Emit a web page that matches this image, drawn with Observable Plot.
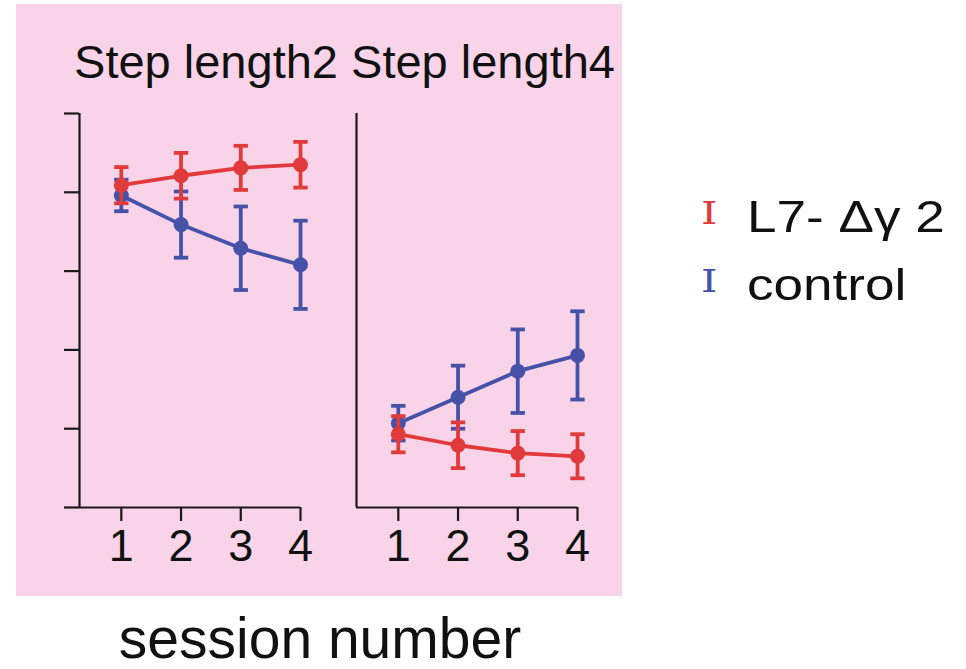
<!DOCTYPE html>
<html>
<head>
<meta charset="utf-8">
<script src="https://cdn.jsdelivr.net/npm/d3@7"></script>
<script src="https://cdn.jsdelivr.net/npm/@observablehq/plot@0.6"></script>
<style>
  html, body { margin: 0; padding: 0; background: #ffffff; }
  body { width: 966px; height: 669px; position: relative; overflow: hidden;
         font-family: "Liberation Sans", Arial, Helvetica, sans-serif; color: #111; }
  #chart { position: absolute; left: 16px; top: 4px; }
  .leg-icon { position: absolute; font-family: "DejaVu Serif", serif; font-size: 32px; line-height: 1; transform: scaleX(1.3); transform-origin: left top; }
  .leg-text { position: absolute; font-size: 45px; line-height: 1; white-space: nowrap; transform: scaleX(1.18); transform-origin: left top; }
  #xlabel { position: absolute; left: 0; width: 640px; text-align: center; top: 610px;
            font-size: 57px; line-height: 1; white-space: nowrap; }
</style>
</head>
<body>
<div id="chart"></div>
<div id="legend"></div>
<div id="xlabel">session number</div>
<script>
// ---- data ----
const sessions = [1, 2, 3, 4];
const sessionLabels = ["1", "2", "3", "4"];
const stepLengths = [2, 4];
const panelTitles = ["Step length2", "Step length4"];
const groups = ["control", "L7- Δγ 2"];          // drawing order (control underneath)
const legendOrder = ["L7- Δγ 2", "control"];
const groupColors = ["#4652a8", "#e13a3b"];       // control, L7
const yTicks = [0, 1, 2, 3, 4, 5];

// step length 2
const l7Step2Mean = [4.09, 4.21, 4.31, 4.35];
const l7Step2Err  = [0.23, 0.29, 0.28, 0.29];
const ctlStep2Mean = [3.96, 3.59, 3.29, 3.08];
const ctlStep2Err  = [0.20, 0.42, 0.53, 0.56];
// step length 4
const l7Step4Mean = [0.93, 0.79, 0.69, 0.65];
const l7Step4Err  = [0.23, 0.29, 0.28, 0.28];
const ctlStep4Mean = [1.07, 1.40, 1.73, 1.93];
const ctlStep4Err  = [0.22, 0.40, 0.53, 0.56];

// ---- table ----
const series = [
  {group: "L7- Δγ 2", step: 2, mean: l7Step2Mean, err: l7Step2Err},
  {group: "control",  step: 2, mean: ctlStep2Mean, err: ctlStep2Err},
  {group: "L7- Δγ 2", step: 4, mean: l7Step4Mean, err: l7Step4Err},
  {group: "control",  step: 4, mean: ctlStep4Mean, err: ctlStep4Err}
];
const rows = series.flatMap(s => sessions.map((x, i) => ({
  group: s.group, step: s.step, session: x,
  mean: s.mean[i], lo: s.mean[i] - s.err[i], hi: s.mean[i] + s.err[i]
})));
const titles = stepLengths.map((s, i) => ({step: s, title: panelTitles[i]}));

const xMin = 0.3, capHalf = 0.12;
const color = d3.scaleOrdinal(groups, groupColors);

const marks = [
  Plot.ruleX([xMin], {y1: 0, y2: 5, stroke: "#1a1a1a", strokeWidth: 2.2}),
  Plot.ruleY([0], {stroke: "#1a1a1a", strokeWidth: 2.2}),
  Plot.axisY({ticks: yTicks, tickSize: 15, tickFormat: () => "", stroke: "#1a1a1a", strokeWidth: 2.2, label: null}),
  Plot.axisX({ticks: sessions, tickSize: 14, tickPadding: 8, fontSize: 45,
              tickFormat: (d) => sessionLabels[sessions.indexOf(d)],
              fill: "#111", stroke: "#1a1a1a", strokeWidth: 2.2, label: null}),
  Plot.text(titles, {fx: "step", text: "title", frameAnchor: "top", dy: -69, dx: 16, fontSize: 47, fill: "#111"})
];
for (const g of groups) {
  const data = rows.filter(r => r.group === g);
  const c = color(g);
  marks.push(
    Plot.ruleX(data, {fx: "step", x: "session", y1: "lo", y2: "hi", stroke: c, strokeWidth: 3.8}),
    Plot.link(data, {fx: "step", x1: d => d.session - capHalf, x2: d => d.session + capHalf, y1: "hi", y2: "hi", stroke: c, strokeWidth: 3.8}),
    Plot.link(data, {fx: "step", x1: d => d.session - capHalf, x2: d => d.session + capHalf, y1: "lo", y2: "lo", stroke: c, strokeWidth: 3.8}),
    Plot.line(data, {fx: "step", x: "session", y: "mean", stroke: c, strokeWidth: 3.8}),
    Plot.dot(data, {fx: "step", x: "session", y: "mean", fill: c, r: 7.5})
  );
}

const chart = Plot.plot({
  width: 606,
  height: 592,
  marginLeft: 62,
  marginRight: 44,
  marginTop: 109,
  marginBottom: 89,
  style: {background: "#f9d4e9", fontFamily: "'Liberation Sans', Arial, sans-serif", overflow: "visible"},
  fx: {domain: stepLengths, paddingInner: 0.2014, paddingOuter: 0, axis: null, label: null},
  x: {domain: [xMin, 4], axis: null},
  y: {domain: [0, 5], axis: null},
  marks
});
document.getElementById("chart").appendChild(chart);

// ---- legend ----
const legend = document.getElementById("legend");
legendOrder.forEach((g, i) => {
  const top = 194 + i * 68;
  const icon = document.createElement("div");
  icon.className = "leg-icon";
  icon.textContent = "I";
  icon.style.color = color(g);
  icon.style.left = "701px";
  icon.style.top = (top + 3) + "px";
  legend.appendChild(icon);
  const t = document.createElement("div");
  t.className = "leg-text";
  t.textContent = g;
  t.style.left = "747px";
  t.style.top = top + "px";
  legend.appendChild(t);
});
</script>
</body>
</html>
